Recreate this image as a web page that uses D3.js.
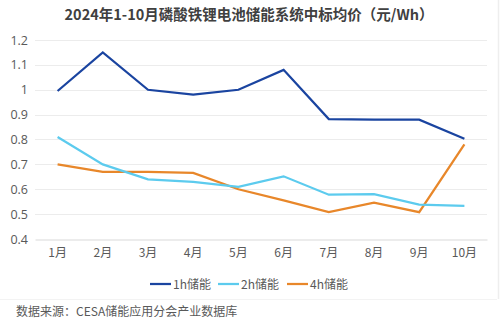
<!DOCTYPE html>
<html>
<head>
<meta charset="utf-8">
<script src="https://cdn.jsdelivr.net/npm/d3@7"></script>
<style>
  html, body { margin: 0; padding: 0; background: #ffffff; }
  svg { display: block; }
  text { font-family: "Noto Sans CJK SC", "Noto Sans", sans-serif; }
</style>
</head>
<body>
<svg id="chart" width="500" height="326"></svg>
<script>
// 2024年1-10月磷酸铁锂电池储能系统中标均价（元/Wh）
const months = ["1月", "2月", "3月", "4月", "5月", "6月", "7月", "8月", "9月", "10月"];
const price1h = [0.995, 1.15, 1.0, 0.98, 1.0, 1.08, 0.882, 0.88, 0.88, 0.803];
const price2h = [0.81, 0.70, 0.64, 0.63, 0.61, 0.652, 0.578, 0.58, 0.538, 0.533];
const price4h = [0.70, 0.67, 0.67, 0.666, 0.60, 0.555, 0.508, 0.546, 0.508, 0.78];
const yTicks = [0.4, 0.5, 0.6, 0.7, 0.8, 0.9, 1.0, 1.1, 1.2];
const seriesNames = ["1h储能", "2h储能", "4h储能"];
const seriesColors = ["#1a44a0", "#5ccbee", "#e8872a"];

const series = [price1h, price2h, price4h].map((values, i) => ({
  name: seriesNames[i], color: seriesColors[i], values
}));

const svg = d3.select("#chart");
const plot = { left: 35, right: 487, top: 40, bottom: 239 };

// faint frame around the chart card
svg.append("line").attr("x1", 0).attr("x2", 497).attr("y1", 299.5).attr("y2", 299.5)
  .attr("stroke", "#f3f3f3").attr("stroke-width", 1);
svg.append("line").attr("x1", 498.5).attr("x2", 498.5).attr("y1", 0).attr("y2", 299)
  .attr("stroke", "#eeeeee").attr("stroke-width", 1.5);

const x = d3.scaleBand().domain(months).range([plot.left, plot.right]);
const y = d3.scaleLinear().domain([0.4, 1.2]).range([plot.bottom, plot.top]);

// title
svg.append("text")
  .attr("x", 249).attr("y", 20)
  .attr("text-anchor", "middle")
  .attr("font-size", 14.5).attr("font-weight", "bold").attr("fill", "#404040")
  .text("2024年1-10月磷酸铁锂电池储能系统中标均价（元/Wh）");

// horizontal gridlines
svg.append("g").selectAll("line").data(yTicks.filter(t => t > 0.4)).join("line")
  .attr("x1", plot.left).attr("x2", plot.right)
  .attr("y1", d => Math.round(y(d)) + 0.5).attr("y2", d => Math.round(y(d)) + 0.5)
  .attr("stroke", "#ececec").attr("stroke-width", 1);

// y axis labels
const yAxis = d3.axisLeft(y).tickValues(yTicks).tickSize(0).tickPadding(0)
  .tickFormat(d => d3.format("~g")(d));
const gy = svg.append("g").attr("transform", `translate(${plot.left - 7},0)`).call(yAxis);
gy.select(".domain").remove();
gy.selectAll("text").attr("font-size", 12.5).attr("fill", "#595959")
  .style("font-family", "'Open Sans', 'Noto Sans', sans-serif");

// x axis baseline and labels
const xAxis = d3.axisBottom(x).tickSize(0).tickPadding(9);
const gx = svg.append("g").attr("transform", `translate(0,${Math.round(plot.bottom) + 0.5})`).call(xAxis);
gx.select(".domain").attr("stroke", "#d9d9d9");
gx.selectAll("text").attr("font-size", 12).attr("fill", "#595959");

// series lines
const line = d3.line()
  .x((d, i) => x(months[i]) + x.bandwidth() / 2)
  .y(d => y(d));

svg.append("g").selectAll("path").data(series.slice().reverse()).join("path")
  .attr("d", d => line(d.values))
  .attr("fill", "none")
  .attr("stroke", d => d.color)
  .attr("stroke-width", 2.25)
  .attr("stroke-linejoin", "miter");

// legend
const legendX = [150, 218, 287];
const legend = svg.append("g").selectAll("g").data(series).join("g")
  .attr("transform", (d, i) => `translate(${legendX[i]},284)`);
legend.append("line").attr("x1", 0).attr("x2", 21).attr("y1", 0).attr("y2", 0)
  .attr("stroke", d => d.color).attr("stroke-width", 2.25);
legend.append("text").attr("x", 23).attr("y", 4.5)
  .attr("font-size", 12).attr("fill", "#595959")
  .text(d => d.name);

// source note
svg.append("text")
  .attr("x", 16).attr("y", 316)
  .attr("font-size", 12).attr("fill", "#595959")
  .text("数据来源：CESA储能应用分会产业数据库");
</script>
</body>
</html>
